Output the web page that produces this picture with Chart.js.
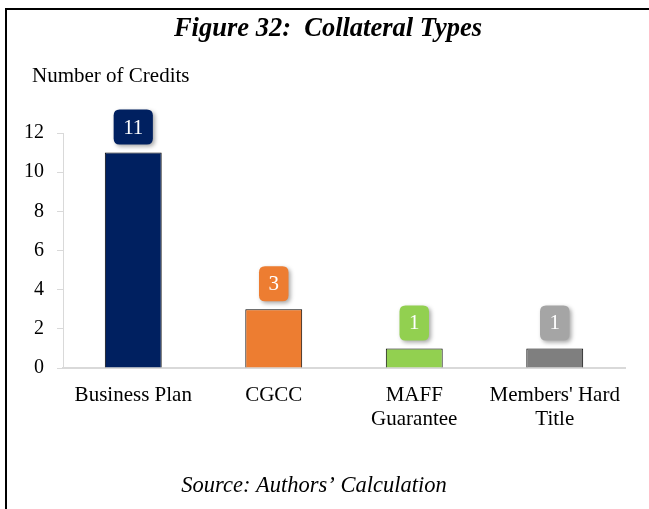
<!DOCTYPE html>
<html>
<head>
<meta charset="utf-8">
<script src="https://cdn.jsdelivr.net/npm/chart.js@4/dist/chart.umd.min.js"></script>
<style>
  html, body { margin: 0; padding: 0; background: #fff; }
  #wrap { width: 649px; height: 509px; }
</style>
</head>
<body>
<div id="wrap"><canvas id="collateral-chart" width="649" height="509"></canvas></div>
<script>
// Collateral types by number of credits
const categories = ['Business Plan', 'CGCC', ['MAFF', 'Guarantee'], ["Members' Hard", 'Title']];
const credits = [11, 3, 1, 1];
const barColors = ['#002060', '#ED7D31', '#92D050', '#7F7F7F'];
const labelColors = ['#002060', '#ED7D31', '#92D050', '#A5A5A5'];
const yMin = 0;
const yMax = 12;
const yStep = 2;

const figureTitle = 'Figure 32:  Collateral Types';
const yAxisLabel = 'Number of Credits';
const sourceNote = 'Source: Authors\u2019 Calculation';

const serif = '"Liberation Serif", "Times New Roman", serif';

function roundRect(ctx, x, y, w, h, r) {
    ctx.beginPath();
    ctx.moveTo(x + r, y);
    ctx.lineTo(x + w - r, y);
    ctx.quadraticCurveTo(x + w, y, x + w, y + r);
    ctx.lineTo(x + w, y + h - r);
    ctx.quadraticCurveTo(x + w, y + h, x + w - r, y + h);
    ctx.lineTo(x + r, y + h);
    ctx.quadraticCurveTo(x, y + h, x, y + h - r);
    ctx.lineTo(x, y + r);
    ctx.quadraticCurveTo(x, y, x + r, y);
    ctx.closePath();
}

// frame, title, axis caption and source line
const framePlugin = {
    id: 'frame',
    beforeDraw(chart) {
        const ctx = chart.ctx;
        ctx.save();
        ctx.fillStyle = '#fff';
        ctx.fillRect(0, 0, chart.width, chart.height);
        ctx.strokeStyle = '#000';
        ctx.lineWidth = 2;
        ctx.beginPath();
        ctx.moveTo(6, chart.height);
        ctx.lineTo(6, 9);
        ctx.lineTo(chart.width, 9);
        ctx.stroke();
        ctx.restore();
    },
    afterDraw(chart) {
        const ctx = chart.ctx;
        ctx.save();
        ctx.fillStyle = '#000';
        ctx.textBaseline = 'middle';
        ctx.textAlign = 'center';
        ctx.font = 'italic bold 26.5px ' + serif;
        ctx.fillText(figureTitle, 328, 29);

        ctx.textAlign = 'left';
        ctx.font = '21px ' + serif;
        ctx.fillText(yAxisLabel, 32, 76);

        ctx.textAlign = 'center';
        ctx.font = 'italic 22.5px ' + serif;
        ctx.fillText(sourceNote, 314, 486);
        ctx.restore();
    }
};

// value badges above the bars
const badgePlugin = {
    id: 'badges',
    afterDatasetsDraw(chart) {
        const ctx = chart.ctx;
        const meta = chart.getDatasetMeta(0);
        ctx.save();
        ctx.font = '21px ' + serif;
        meta.data.forEach((bar, i) => {
            const text = String(credits[i]);
            const w = ctx.measureText(text).width + 19;
            const h = 35;
            const x = bar.x - w / 2;
            const y = bar.y - 8 - h;
            ctx.save();
            ctx.shadowColor = 'rgba(0,0,0,0.35)';
            ctx.shadowBlur = 4;
            ctx.shadowOffsetX = 2;
            ctx.shadowOffsetY = 2;
            ctx.fillStyle = labelColors[i];
            roundRect(ctx, x, y, w, h, 6);
            ctx.fill();
            ctx.restore();
            ctx.fillStyle = '#fff';
            ctx.textAlign = 'center';
            ctx.textBaseline = 'middle';
            ctx.fillText(text, bar.x, y + h / 2 + 1);
        });
        ctx.restore();
    }
};

const ctx = document.getElementById('collateral-chart').getContext('2d');
new Chart(ctx, {
    type: 'bar',
    data: {
        labels: categories,
        datasets: [{
            data: credits,
            backgroundColor: barColors,
            borderColor: '#000',
            borderWidth: 1,
            barPercentage: 0.405,
            categoryPercentage: 1
        }]
    },
    options: {
        responsive: false,
        animation: false,
        layout: { padding: { left: 0, right: 24, top: 133, bottom: 0 } },
        plugins: {
            legend: { display: false },
            tooltip: { enabled: false }
        },
        scales: {
            x: {
                grid: { display: false, drawTicks: false },
                border: { display: true, color: '#d9d9d9', width: 2 },
                ticks: {
                    color: '#000',
                    padding: 15,
                    maxRotation: 0,
                    autoSkip: false,
                    font: { family: serif, size: 21, lineHeight: 1.15 }
                },
                afterFit(scale) { scale.height = 141; }
            },
            y: {
                min: yMin,
                max: yMax,
                grid: { display: true, drawOnChartArea: false, drawTicks: true, tickLength: 6, color: '#d9d9d9' },
                border: { display: true, color: '#d9d9d9', width: 1 },
                ticks: {
                    stepSize: yStep,
                    color: '#000',
                    padding: 13,
                    font: { family: serif, size: 20 }
                },
                afterFit(scale) { scale.width = 63; }
            }
        }
    },
    plugins: [framePlugin, badgePlugin]
});
</script>
</body>
</html>
